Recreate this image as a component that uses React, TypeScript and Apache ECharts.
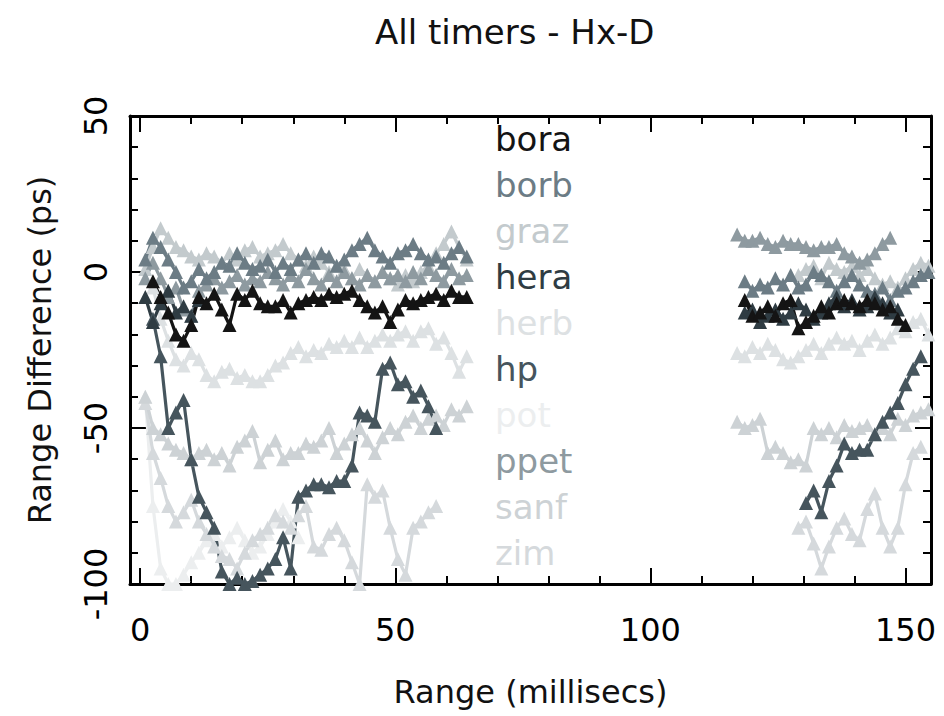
import React, { useEffect, useRef } from "react";
import * as echarts from "echarts";

const TITLE = "All timers - Hx-D";
const X_NAME = "Range (millisecs)";
const Y_NAME = "Range Difference (ps)";

const X_MINOR_TICKS = [0, 10, 20, 30, 40, 50, 60, 70, 80, 90, 100, 110, 120, 130, 140, 150];
const X_MAJOR_TICKS = [0, 50, 100, 150];
const Y_MINOR_TICKS = [-100, -90, -80, -70, -60, -50, -40, -30, -20, -10, 0, 10, 20, 30, 40, 50];
const Y_MAJOR_TICKS = [-100, -50, 0, 50];

const timers = ["bora", "borb", "graz", "hera", "herb", "hp", "pot", "ppet", "sanf", "zim"];
const timerColors = ["#141414", "#6c7c85", "#c3cacd", "#2f3c43", "#dde1e3", "#46555d", "#eceeef", "#8e9aa0", "#cdd2d5", "#d5d9dc"];
// drawing order (light first, dark on top)
const drawOrder = ["pot", "herb", "zim", "sanf", "graz", "ppet", "borb", "hp", "hera", "bora"];

const xLeft = [1, 2.5, 4, 5.5, 7, 8.5, 10, 11.5, 13, 14.5, 16, 17.5, 19, 20.5, 22, 23.5, 25, 26.5, 28, 29.5, 31, 32.5, 34, 35.5, 37, 38.5, 40, 41.5, 43, 44.5, 46, 47.5, 49, 50.5, 52, 53.5, 55, 56.5, 58, 59.5, 61, 62.5, 64];
const xRight = [117, 118.5, 120, 121.5, 123, 124.5, 126, 127.5, 129, 130.5, 132, 133.5, 135, 136.5, 138, 139.5, 141, 142.5, 144, 145.5, 147, 148.5, 150, 151.5, 153, 154.5];

const boraLeft = [null, -3, -8, -13, -20, -22, -17, -8, -10, -7, -12, -17, -7, -9, -6, -10, -11, -11, -9, -13, -10, -9, -8, -9, -7, -8, -7, -6, -9, -11, -13, -11, -16, -12, -9, -10, -9, -8, -7, -9, -6, -8, -8];
const boraRight = [null, -9, -14, -13, -11, -14, -10, -9, -18, -16, -14, -11, -13, -10, -9, -10, -11, -9, -10, -12, -11, -15, -17, null, null, null];

const borbLeft = [4, 11, 8, 4, 0, -5, -3, 1, -2, 0, 3, 2, 6, 3, 1, 2, 4, 0, 3, 1, 4, 6, 3, 6, 5, 2, 4, 7, 9, 11, 7, 5, 3, 6, 7, 9, 6, 4, 5, 3, 6, 8, 5];
const borbRight = [null, -3, -6, -4, -5, -2, -4, -1, -5, -4, 0, -1, -3, -6, -3, -1, -4, -6, -7, -5, -9, -6, -5, -3, -1, 0];

const grazLeft = [1, 8, 14, 11, 8, 7, 5, 4, 6, 5, 3, 6, 4, 7, 8, 5, 6, 7, 9, 6, 4, 2, 5, 3, 0, 2, 1, -2, 1, -1, -3, 0, -2, -4, -1, -3, 0, 2, 6, 9, 13, 8, 4];
const grazRight = [null, null, null, null, null, null, null, null, -1, 1, 2, -2, 3, 1, 0, 2, -1, 1, -2, -4, -3, -5, -2, 1, 3, 2];

const heraLeft = [-8, -16, -10, -6, -13, -11, -14, -9, null, null, null, null, null, null, null, null, null, null, null, null, null, null, null, null, null, null, null, null, null, null, null, null, null, null, null, null, null, null, null, null, null, null, null];
const heraRight = [null, -13, -12, -16, -14, -12, -15, -13, -10, -12, -15, -13, -10, -8, -11, -9, -12, -11, -8, -10, -13, -12, null, null, null, null];

const herbLeft = [null, -5, -15, -22, -28, -30, -26, -28, -33, -35, -32, -31, -34, -33, -35, -35, -33, -30, -29, -26, -24, -27, -25, -26, -23, -24, -22, -24, -21, -24, -22, -20, -22, -20, -19, -22, -19, -18, -23, -21, -26, -32, -27];
const herbRight = [-26, -27, -24, -26, -23, -25, -28, -29, -27, -25, -23, -26, -23, -21, -23, -22, -25, -22, -20, -23, -21, -18, -19, -16, -15, -20];

const hpLeft = [null, -15, -27, -50, -45, -41, -60, -72, -77, -82, -96, -100, -98, -100, -99, -97, -95, -92, -85, -95, -72, -70, -68, -68, -69, -67, -67, -62, -45, -46, -48, -31, -29, -36, -35, -40, -38, -43, -50, null, null, null, null];
const hpRight = [null, null, null, null, null, null, null, null, null, -74, -70, -77, -67, -62, -55, -58, -57, -57, -52, -48, -45, -42, -36, -31, -27, null];

const potLeft = [-40, -75, -95, -100, -100, -97, -93, -90, -86, -84, -88, -85, -82, -86, -90, -88, -84, -80, -76, -80, -85, null, null, null, null, null, null, null, null, null, null, null, null, null, null, null, null, null, null, null, null, null, null];
const potRight = [null, null, null, null, null, null, null, null, null, null, null, null, null, null, null, null, null, null, null, null, null, null, null, null, null, null];

const ppetLeft = [-2, 3, -2, -8, -5, -12, -14, -6, -4, -2, -5, -3, -1, -4, -2, -3, 0, -2, -4, -1, -3, 1, -2, -4, -1, -3, 0, -2, -4, -1, -3, 0, -2, -1, -3, 0, -2, 1, -1, -3, 1, -2, -1];
const ppetRight = [12, 10, 10, 11, 9, 8, 10, 9, 9, 8, 7, 8, 8, 9, 6, 5, 3, 4, 6, 9, 11, null, null, null, null, null];

const sanfLeft = [-40, -50, -52, -55, -57, -58, -60, -58, -57, -60, -58, -62, -56, -54, -51, -61, -57, -54, -60, -58, -58, -55, -56, -54, -50, -58, -55, -52, -50, -54, -58, -53, -50, -52, -48, -46, -50, -47, -46, -49, -44, -46, -43];
const sanfRight = [-48, -50, -49, -47, -58, -56, -58, -61, -60, -62, -50, -52, -50, -53, -49, -51, -50, -49, -52, -50, -52, -47, -49, -46, -45, -44];

const zimLeft = [-42, -58, -66, -75, -80, -77, -73, -80, -84, -88, -91, -92, -95, -90, -86, -84, -82, -78, -80, -82, -78, -75, -88, -89, -84, -82, -86, -93, -100, -68, -72, -70, -82, -92, -97, -82, -80, -77, -75, null, null, null, null];
const zimRight = [null, null, null, null, null, null, null, null, -82, -80, -87, -95, -88, -82, -79, -84, -86, -76, -71, -82, -88, -82, -68, -58, -56, null];

const leftValues: Record<string, (number | null)[]> = {
  bora: boraLeft, borb: borbLeft, graz: grazLeft, hera: heraLeft, herb: herbLeft,
  hp: hpLeft, pot: potLeft, ppet: ppetLeft, sanf: sanfLeft, zim: zimLeft,
};
const rightValues: Record<string, (number | null)[]> = {
  bora: boraRight, borb: borbRight, graz: grazRight, hera: heraRight, herb: herbRight,
  hp: hpRight, pot: potRight, ppet: ppetRight, sanf: sanfRight, zim: zimRight,
};

const FONT = "DejaVu Sans";

function buildOption() {
  const colorOf = (n: string) => timerColors[timers.indexOf(n)];
  const series = drawOrder.map((name) => {
    const l = leftValues[name];
    const r = rightValues[name];
    const data: any[] = [
      ...xLeft.map((x, i) => [x, l[i]]),
      [xRight[0], null],
      ...xRight.map((x, i) => [x, r[i]]),
    ];
    return {
      name,
      type: "line",
      xAxisIndex: 0,
      yAxisIndex: 0,
      data,
      connectNulls: false,
      symbol: "triangle",
      symbolSize: 14,
      showSymbol: true,
      lineStyle: { color: colorOf(name), width: 3.2 },
      itemStyle: { color: colorOf(name) },
      emphasis: { disabled: true },
    };
  });

  const axisLineStyle = { color: "#000", width: 3 };
  const tickStyle = { color: "#000", width: 2 };
  const xBase = { type: "value", min: -2, max: 155, splitLine: { show: false } };
  const yBase = { type: "value", min: -100, max: 50, splitLine: { show: false } };

  return {
    animation: false,
    backgroundColor: "#ffffff",
    textStyle: { fontFamily: FONT },
    title: {
      text: TITLE,
      left: 370,
      top: 10,
      textStyle: { fontSize: 34, fontWeight: "normal", color: "#111", fontFamily: FONT },
    },
    legend: {
      orient: "vertical",
      left: 485,
      top: 116,
      icon: "rect",
      itemWidth: 0,
      itemHeight: 0,
      itemGap: 10,
      selectedMode: false,
      textStyle: { fontSize: 34, fontFamily: FONT, lineHeight: 36, padding: 0 },
      data: timers.map((n, i) => ({ name: n, textStyle: { color: timerColors[i] } })),
    },
    grid: { left: 130, right: 13, top: 116, bottom: 132 },
    xAxis: [
      {
        ...xBase, position: "bottom",
        axisLine: { show: true, onZero: false, lineStyle: axisLineStyle },
        axisTick: { show: true, inside: true, length: 8, customValues: X_MINOR_TICKS, lineStyle: tickStyle },
        axisLabel: { show: false },
      },
      {
        ...xBase, position: "bottom",
        axisLine: { show: false, onZero: false },
        axisTick: { show: true, inside: true, length: 16, customValues: X_MAJOR_TICKS, lineStyle: tickStyle },
        axisLabel: { show: true, customValues: X_MAJOR_TICKS, fontSize: 32, color: "#000", margin: 30, fontFamily: FONT },
        name: X_NAME, nameLocation: "middle", nameGap: 92,
        nameTextStyle: { fontSize: 32, color: "#111", fontFamily: FONT },
      },
      {
        ...xBase, position: "top",
        axisLine: { show: true, onZero: false, lineStyle: axisLineStyle },
        axisTick: { show: true, inside: true, length: 8, customValues: X_MINOR_TICKS, lineStyle: tickStyle },
        axisLabel: { show: false },
      },
      {
        ...xBase, position: "top",
        axisLine: { show: false, onZero: false },
        axisTick: { show: true, inside: true, length: 16, customValues: X_MAJOR_TICKS, lineStyle: tickStyle },
        axisLabel: { show: false },
      },
    ],
    yAxis: [
      {
        ...yBase, position: "left",
        axisLine: { show: true, onZero: false, lineStyle: axisLineStyle },
        axisTick: { show: true, inside: true, length: 8, customValues: Y_MINOR_TICKS, lineStyle: tickStyle },
        axisLabel: { show: false },
      },
      {
        ...yBase, position: "left",
        axisLine: { show: false, onZero: false },
        axisTick: { show: true, inside: true, length: 16, customValues: Y_MAJOR_TICKS, lineStyle: tickStyle },
        axisLabel: { show: true, customValues: Y_MAJOR_TICKS, rotate: 90, fontSize: 32, color: "#000", margin: 18, fontFamily: FONT },
        name: Y_NAME, nameLocation: "middle", nameGap: 74,
        nameTextStyle: { fontSize: 32, color: "#111", fontFamily: FONT },
      },
      {
        ...yBase, position: "right",
        axisLine: { show: true, onZero: false, lineStyle: axisLineStyle },
        axisTick: { show: true, inside: true, length: 8, customValues: Y_MINOR_TICKS, lineStyle: tickStyle },
        axisLabel: { show: false },
      },
      {
        ...yBase, position: "right",
        axisLine: { show: false, onZero: false },
        axisTick: { show: true, inside: true, length: 16, customValues: Y_MAJOR_TICKS, lineStyle: tickStyle },
        axisLabel: { show: false },
      },
    ],
    series,
  };
}

export default function App() {
  const ref = useRef<HTMLDivElement>(null);
  useEffect(() => {
    if (!ref.current) return;
    const chart = echarts.init(ref.current, undefined, { renderer: "svg" });
    chart.setOption(buildOption() as any);
    return () => chart.dispose();
  }, []);
  return (
    <div
      ref={ref}
      style={{ position: "fixed", left: 0, top: 0, width: 944, height: 716, background: "#fff" }}
    />
  );
}
